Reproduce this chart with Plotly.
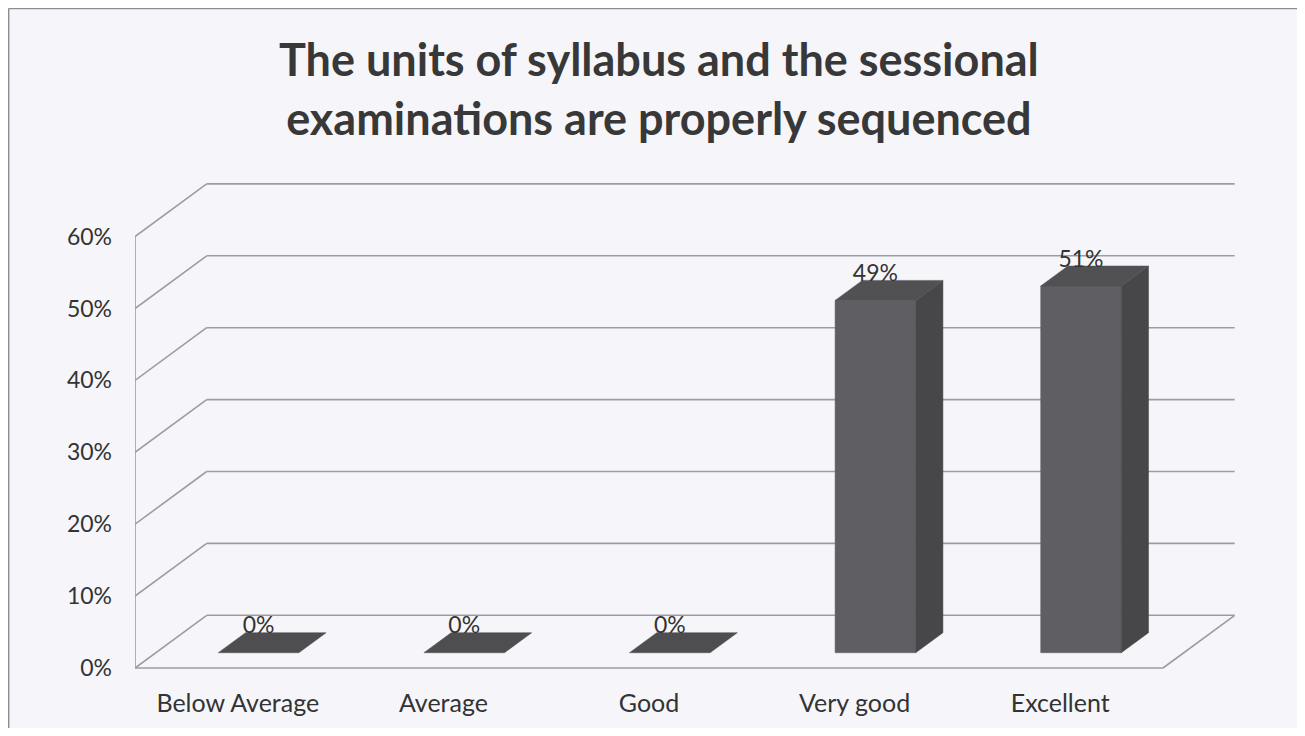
import plotly.graph_objects as go

# ---- data ----
categories = ["Below Average", "Average", "Good", "Very good", "Excellent"]
values = [0, 0, 0, 49, 51]
y_ticks = [0, 10, 20, 30, 40, 50, 60]
y_tick_labels = [f"{t}%" for t in y_ticks]
title_text = "The units of syllabus and the sessional<br>examinations are properly sequenced"

# ---- pseudo-3D geometry (in axis units) ----
DX = 0.3487          # full depth offset in category units
DY = 7.33            # full depth offset in percent units
Z0, Z1 = 0.29, 0.67  # bar depth extent (fraction of full depth)
BAR_W = 0.392        # bar front face width
X_LEFT, X_RIGHT = -0.5, len(categories) - 0.5
Y_MAX = max(y_ticks)

GRID = "#9c9ca4"
FRONT = "#5e5e63"
TOP = "#515154"
SIDE = "#47474a"
TEXT = "#333333"
FONT = "Lato"

fig = go.Figure()


def line(xs, ys):
    fig.add_trace(go.Scatter(x=xs, y=ys, mode="lines",
                             line=dict(color=GRID, width=1.6),
                             hoverinfo="skip", showlegend=False, cliponaxis=False))


# back wall gridlines and left wall diagonals
for t in y_ticks:
    line([X_LEFT + DX, X_RIGHT + DX], [t + DY, t + DY])
    line([X_LEFT, X_LEFT + DX], [t, t + DY])
# left front vertical edge
line([X_LEFT, X_LEFT], [0, Y_MAX])
# floor front edge and right edge
line([X_LEFT, X_RIGHT], [0, 0])
line([X_RIGHT, X_RIGHT + DX], [0, DY])


def poly(xs, ys, color):
    fig.add_trace(go.Scatter(x=xs + [xs[0]], y=ys + [ys[0]], mode="lines",
                             fill="toself", fillcolor=color,
                             line=dict(color=color, width=0.5),
                             hoverinfo="skip", showlegend=False, cliponaxis=False))


dz = Z1 - Z0
lab_x, lab_y, lab_t = [], [], []
for i, (c, v) in enumerate(zip(categories, values)):
    xc = i + Z0 * DX
    xl, xr = xc - BAR_W / 2, xc + BAR_W / 2
    yb = Z0 * DY
    yt = yb + v
    ox, oy = dz * DX, dz * DY
    if v > 0:
        poly([xl, xr, xr, xl], [yb, yb, yt, yt], FRONT)
        poly([xr, xr + ox, xr + ox, xr], [yb, yb + oy, yt + oy, yt], SIDE)
        poly([xl, xr, xr + ox, xl + ox], [yt, yt, yt + oy, yt + oy], TOP)
    else:
        poly([xl, xr, xr + ox, xl + ox], [yt, yt, yt + oy, yt + oy], "#4e4e51")
    lab_x.append(xc)
    lab_y.append(yt + 3.5)
    lab_t.append(f"{v}%")

fig.add_trace(go.Scatter(x=lab_x, y=lab_y, mode="text", text=lab_t,
                         textfont=dict(family=FONT, size=23, color=TEXT),
                         hoverinfo="skip", showlegend=False, cliponaxis=False))

# page body has an 8px margin, so figure pixel = screen pixel - 8
OFF = 8
PX_PER_X = 205.6
PX_PER_Y = 7.19
W, H = 1305 - 2 * OFF, 736 - 2 * OFF
L = 135 - OFF
R = W - (1265 - OFF)
T = 170 - OFF
B = H - (690 - OFF)
PW, PH = W - L - R, H - T - B
x_range = [X_LEFT, X_LEFT + PW / PX_PER_X]
y_bottom = -(690 - 668) / PX_PER_Y
y_range = [y_bottom, y_bottom + PH / PX_PER_Y]

bx = -L / PW + 0.0006
by = (H - B) / PH - 0.001

fig.update_layout(
    width=W, height=H,
    margin=dict(l=L, r=R, t=T, b=B, autoexpand=False),
    paper_bgcolor="#f6f6fa", plot_bgcolor="rgba(0,0,0,0)",
    xaxis=dict(range=x_range, tickvals=list(range(len(categories))), ticktext=categories,
               showgrid=False, zeroline=False, showline=False, ticks="",
               tickfont=dict(family=FONT, size=25, color=TEXT), ticklabelstandoff=-4,
               automargin=False, fixedrange=True),
    yaxis=dict(range=y_range, tickvals=y_ticks, ticktext=y_tick_labels,
               showgrid=False, zeroline=False, showline=False, ticks="",
               tickfont=dict(family=FONT, size=23, color=TEXT), ticklabelstandoff=22,
               automargin=False, fixedrange=True),
    annotations=[dict(text=title_text, xref="paper", yref="paper",
                      x=(659 - OFF - L) / PW, y=(H - B - (30 - OFF)) / PH,
                      xanchor="center", yanchor="top", showarrow=False,
                      font=dict(family=FONT, size=45, color="#383838", weight="bold"))],
    shapes=[
        dict(type="line", xref="paper", yref="paper", x0=bx, x1=bx, y0=-0.2, y1=by,
             line=dict(color="#8c8c94", width=1.5)),
        dict(type="line", xref="paper", yref="paper", x0=bx, x1=1.2, y0=by, y1=by,
             line=dict(color="#8c8c94", width=1.5)),
    ],
)

fig.write_html("out.html")
